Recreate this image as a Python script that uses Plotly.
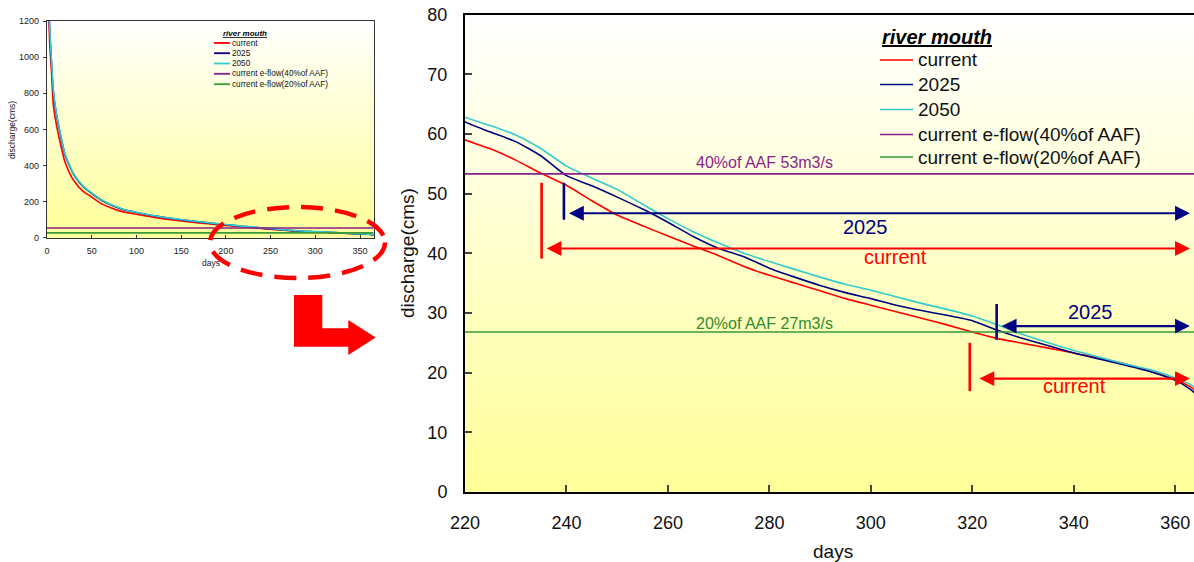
import base64
import plotly.graph_objects as go

W, H = 1194, 562

# ---- flow duration data (days exceeded vs discharge, cms) ----
days = [1, 3, 5, 7, 10, 15, 20, 25, 30, 40, 50, 60, 70, 80, 90, 100, 120, 140, 160, 180, 200, 210, 215,
        220, 225, 230, 235, 240, 245, 250, 255, 260, 265, 270, 275, 280, 285, 290, 295, 300, 305, 310, 315,
        320, 325, 330, 335, 340, 345, 350, 355, 360, 363, 365]

current = [1450, 1080, 920, 740, 640, 520, 420, 360, 315, 258, 225, 190, 168, 150, 138, 130, 112, 98, 87, 77, 68, 63.5, 61.2,
           59.0, 57.5, 55.6, 53.4, 51.4, 48.8, 46.4, 44.6, 42.9, 41.2, 39.6, 37.8, 36.3, 35.0, 33.7, 32.4, 31.3, 30.2, 29.1, 28.0,
           26.8, 25.7, 24.9, 24.1, 23.3, 22.4, 21.5, 20.3, 18.9, 17.6, 16.2]

q2025 = [1500, 1150, 970, 810, 700, 570, 460, 400, 350, 285, 245, 210, 185, 165, 150, 140, 121, 106, 93, 82, 72, 67, 64.5,
         62.0, 60.3, 58.7, 56.3, 53.0, 51.3, 49.4, 47.4, 45.2, 42.8, 40.8, 39.4, 37.5, 36.0, 34.6, 33.4, 32.4, 31.3, 30.4, 29.6,
         28.7, 27.1, 25.7, 24.5, 23.3, 22.3, 21.3, 20.2, 18.7, 17.2, 15.6]

q2050 = [1520, 1170, 980, 820, 705, 575, 465, 405, 352, 288, 248, 212, 187, 167, 151, 141, 122, 107, 94, 83, 73, 68, 65.3,
         62.8, 61.4, 59.8, 57.5, 54.6, 52.6, 50.7, 48.2, 45.8, 43.6, 41.7, 40.0, 38.6, 37.3, 36.0, 34.8, 33.8, 32.7, 31.6, 30.6,
         29.5, 28.0, 26.4, 25.0, 23.7, 22.6, 21.5, 20.5, 19.1, 18.0, 16.6]

# environmental flow levels (cms)
eflow_40 = 53.3
eflow_20 = 26.8
eflow_days = [0, 365]

series_names = ["current", "2025", "2050", "current e-flow(40%of AAF)", "current e-flow(20%of AAF)"]
series_colors = ["#ff0000", "#000080", "#33cccc", "#8a1f8a", "#3a9a3a"]

# days on which each scenario drops below the e-flow levels
cross_40 = {"current": 235.1, "2025": 239.5}
cross_20 = {"current": 319.5, "2025": 324.8}

main_xticks = [220, 240, 260, 280, 300, 320, 340, 360]
main_yticks = [0, 10, 20, 30, 40, 50, 60, 70, 80]
inset_xticks = [0, 50, 100, 150, 200, 250, 300, 350]
inset_yticks = [0, 200, 400, 600, 800, 1000, 1200]

FONT = "Liberation Sans, Arial, sans-serif"


def px(x):
    return x / W


def py(y):
    return 1 - y / H


def note(**kw):
    base = dict(showarrow=False, xanchor="center", yanchor="middle", borderpad=0)
    base.update(kw)
    return base


fig = go.Figure()

curves = [current, q2025, q2050, [eflow_40] * 2, [eflow_20] * 2]
for name, color, vals in zip(series_names, series_colors, curves):
    xs = days if len(vals) == len(days) else eflow_days
    for xa, ya in (("x", "y"), ("x2", "y2")):
        fig.add_trace(go.Scatter(x=xs, y=vals, name=name, mode="lines",
                                 line=dict(color=color, width=1.6, shape="spline", smoothing=0.5),
                                 xaxis=xa, yaxis=ya, showlegend=False, hoverinfo="skip"))

# vertical gradient backdrop for the plot areas
svg = ("<svg xmlns='http://www.w3.org/2000/svg' width='4' height='256' viewBox='0 0 4 256' "
       "preserveAspectRatio='none'><defs><linearGradient id='g' x1='0' y1='0' x2='0' y2='1'>"
       "<stop offset='0' stop-color='#ffffff'/><stop offset='1' stop-color='#ffff99'/>"
       "</linearGradient></defs><rect width='4' height='256' fill='url(#g)'/></svg>")
grad_src = "data:image/svg+xml;base64," + base64.b64encode(svg.encode()).decode()
images = [dict(source=grad_src, xref=xr + " domain", yref=yr + " domain", x=0, y=1, sizex=1, sizey=1,
               sizing="stretch", xanchor="left", yanchor="top", layer="below")
          for xr, yr in (("x", "y"), ("x2", "y2"))]

shapes = []
annotations = []

# ---- main chart markers: crossing bars and double arrows ----
marks = [
    # (crossing day, bar bottom, bar top, arrow level, arrow start, colour)
    (cross_40["current"], 39.1, 51.8, 40.8, cross_40["current"] + 0.7, "#ff0000"),
    (cross_40["2025"], 45.6, 51.8, 46.7, cross_40["2025"] + 0.7, "#000080"),
    (cross_20["2025"], 25.5, 31.5, 27.8, cross_20["2025"] + 0.7, "#000080"),
    (cross_20["current"], 16.9, 25.0, 19.0, cross_20["current"] + 1.6, "#ff0000"),
]
x_end = 362.9
for day, y0, y1, lvl, start, col in marks:
    shapes.append(dict(type="line", xref="x", yref="y", x0=day, x1=day, y0=y0, y1=y1,
                       line=dict(color=col, width=2.6)))
    annotations.append(dict(xref="x", yref="y", axref="x", ayref="y", x=x_end, y=lvl, ax=start, ay=lvl,
                            text="", showarrow=True, arrowhead=2, startarrowhead=2, arrowside="end+start",
                            arrowwidth=2.2, arrowsize=1.35, startarrowsize=1.35, arrowcolor=col))

labels = [
    ("2025", 299.0, 44.4, "#000080"),
    ("current", 304.9, 39.4, "#ff0000"),
    ("2025", 343.3, 30.2, "#000080"),
    ("current", 340.2, 17.8, "#ff0000"),
]
for txt, lx, ly, col in labels:
    annotations.append(note(xref="x", yref="y", x=lx, y=ly, text=txt,
                            font=dict(family=FONT, size=20, color=col)))

annotations.append(note(xref="x", yref="y", x=279.0, y=55.2,
                        text=f"40%of AAF {eflow_40:.0f}m3/s",
                        font=dict(family=FONT, size=16, color="#8a1f8a")))
annotations.append(note(xref="x", yref="y", x=279.1, y=28.3,
                        text=f"20%of AAF {eflow_20:.0f}m3/s",
                        font=dict(family=FONT, size=16, color="#2e8b2e")))

# ---- axis titles ----
annotations += [
    note(xref="paper", yref="paper", x=px(408), y=py(253), text="discharge(cms)", textangle=-90,
         font=dict(family=FONT, size=19, color="#111")),
    note(xref="paper", yref="paper", x=px(833), y=py(551), text="days",
         font=dict(family=FONT, size=19, color="#111")),
    note(xref="paper", yref="paper", x=px(12), y=py(130), text="discharge(cms)", textangle=-90,
         font=dict(family=FONT, size=8.5, color="#222")),
    note(xref="paper", yref="paper", x=px(210.7), y=py(262.7), text="days",
         font=dict(family=FONT, size=8.5, color="#222")),
]


# ---- legends (title + swatches) ----
def add_legend(title_xy, title_size, line_x, text_x, ys, size, lw):
    annotations.append(note(xref="paper", yref="paper", x=px(title_xy[0]), y=py(title_xy[1]),
                            text="<b><i><u>river mouth</u></i></b>",
                            font=dict(family=FONT, size=title_size, color="#000")))
    for name, col, yy in zip(series_names, series_colors, ys):
        shapes.append(dict(type="line", xref="paper", yref="paper", x0=px(line_x[0]), x1=px(line_x[1]),
                           y0=py(yy), y1=py(yy), line=dict(color=col, width=lw)))
        annotations.append(note(xref="paper", yref="paper", x=px(text_x), y=py(yy), text=name,
                                xanchor="left", font=dict(family=FONT, size=size, color="#111")))


add_legend((936.7, 37.5), 20, (880, 913), 917, [60, 84.5, 109.5, 134.5, 157], 19, 1.6)
add_legend((245, 33.5), 8, (214, 230), 230.5, [43, 53.2, 63.5, 73.8, 84.2], 8.2, 1.8)

# ---- zoom callout: dashed ellipse and bent arrow ----
shapes.append(dict(type="circle", xref="paper", yref="paper", x0=px(210), x1=px(385), y0=py(278), y1=py(207),
                   line=dict(color="#ff0000", width=4.5, dash="22px,12px"), layer="above"))
L = [(294, 295), (322.3, 295), (322.3, 328.3), (348.3, 328.3), (348.3, 320), (375.7, 337.5),
     (348.3, 355), (348.3, 346.7), (294, 346.7)]
path = "M " + " L ".join(f"{px(a):.5f},{py(b):.5f}" for a, b in L) + " Z"
shapes.append(dict(type="path", xref="paper", yref="paper", path=path,
                   fillcolor="#ff0000", line=dict(color="#ff0000", width=0)))

fig.update_layout(
    width=W, height=H, margin=dict(l=0, r=0, t=0, b=0, pad=0, autoexpand=False),
    paper_bgcolor="white", plot_bgcolor="rgba(0,0,0,0)",
    showlegend=False, images=images, shapes=shapes, annotations=annotations,
    xaxis=dict(domain=[px(465), 1.0], range=[220, 363.7], tickvals=main_xticks,
               ticks="inside", ticklen=7, tickwidth=1.5, tickcolor="#444",
               showline=True, linecolor="#000", linewidth=2, mirror=True,
               showgrid=False, zeroline=False, ticklabelstandoff=13, automargin=False,
               tickfont=dict(family=FONT, size=18, color="#111")),
    yaxis=dict(domain=[py(492), py(14.5)], range=[0, 80], tickvals=main_yticks,
               ticks="inside", ticklen=7, tickwidth=1.5, tickcolor="#444",
               showline=True, linecolor="#000", linewidth=2,
               showgrid=False, zeroline=False, ticklabelstandoff=12, automargin=False,
               tickfont=dict(family=FONT, size=18, color="#111")),
    xaxis2=dict(domain=[px(47), px(374)], range=[0, 365.6], tickvals=inset_xticks, anchor="y2",
                ticks="inside", ticklen=3, tickwidth=1, tickcolor="#333",
                showline=True, linecolor="#333", linewidth=1.2, mirror=True,
                showgrid=False, zeroline=False, ticklabelstandoff=4, automargin=False,
                tickfont=dict(family=FONT, size=9, color="#222")),
    yaxis2=dict(domain=[py(237.7), py(21)], range=[0, 1200], tickvals=inset_yticks, anchor="x2",
                ticks="outside", ticklen=3, tickwidth=1, tickcolor="#333",
                showline=True, linecolor="#333", linewidth=1.2, mirror=True,
                showgrid=False, zeroline=False, ticklabelstandoff=2, automargin=False,
                tickfont=dict(family=FONT, size=9, color="#222")),
)

fig.write_html("out.html")
